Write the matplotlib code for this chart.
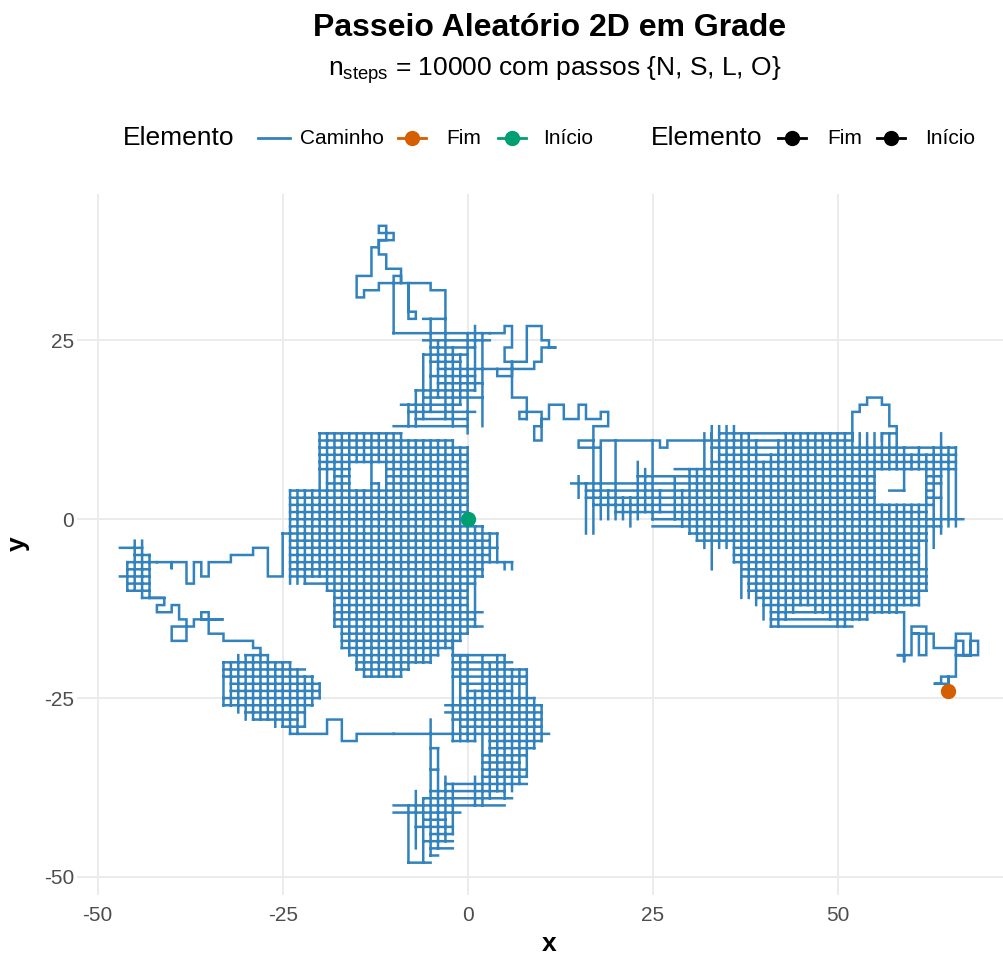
import matplotlib
matplotlib.use("Agg")
import matplotlib.pyplot as plt
from matplotlib.lines import Line2D
import numpy as np

plt.rcParams['font.family'] = ['Liberation Sans', 'DejaVu Sans']
plt.rcParams['mathtext.fontset'] = 'custom'
plt.rcParams['mathtext.rm'] = 'Liberation Sans'
plt.rcParams['mathtext.it'] = 'Liberation Sans:italic'
plt.rcParams['axes.unicode_minus'] = False

# ---------------------------------------------------------------- data
inicio = (0, 0)
fim = (65, -24)

# dense central region: horizontal runs (y, x_from, x_to) and vertical runs (x, y_from, y_to)
centro_linhas = [
    (12, -20, -9), (11, -20, -2), (10, -20, 0), (9, -20, 0), (8, -20, 0),
    (7, -20, -16), (7, -11, 0), (6, -18, -16), (6, -11, 0),
    (5, -19, -16), (5, -13, -12), (5, -11, 0),
    (4, -24, 0), (3, -24, 0), (2, -24, 0), (1, -24, 0), (0, -24, 0),
    (-1, -24, 2), (-2, -25, 4), (-3, -24, 3), (-4, -24, 4), (-5, -24, 3),
    (-6, -24, 6), (-7, -24, 2), (-8, -24, 2), (-9, -22, 1), (-10, -19, 0),
    (-11, -18, 0), (-12, -18, 0), (-13, -18, 2), (-14, -18, 1), (-15, -18, 2),
    (-16, -17, 0), (-17, -17, -1), (-18, -17, -2), (-19, -16, -4), (-20, -15, -5),
    (-21, -15, -8), (-22, -14, -9),
]
centro_colunas = [
    (-24, -9, 4), (-23, -9, 4), (-22, -9, 4), (-21, -8, 4), (-20, -8, 12),
    (-19, -10, 12), (-18, -15, 12), (-17, -18, 12), (-16, -19, 12),
    (-15, -21, 4), (-15, 8, 12), (-14, -22, 4), (-14, 8, 12),
    (-13, -22, 12), (-12, -22, 5), (-12, 8, 12),
    (-11, -22, 12), (-10, -22, 12), (-9, -22, 12), (-8, -21, 11), (-7, -20, 11),
    (-6, -20, 11), (-5, -20, 11), (-4, -19, 11), (-3, -18, 11), (-2, -18, 11),
    (-1, -17, 10), (0, -16, 10), (1, -15, -1), (2, -8, -1), (3, -6, -2),
    (4, -6, -2), (5, -7, -6), (6, -7, -6),
]

# small knot at the far west
oeste_linhas = [
    (-4, -47, -44), (-5, -45, -43), (-6, -46, -42), (-7, -46, -43), (-8, -47, -43),
    (-9, -46, -43), (-10, -46, -43), (-11, -44, -41),
]
oeste_colunas = [(-46, -10, -6), (-45, -10, -3), (-44, -11, -3), (-43, -11, -5)]

# south-west block
sudoeste_linhas = [
    (-19, -30, -27), (-20, -33, -24), (-21, -33, -22), (-22, -33, -21),
    (-23, -32, -20), (-24, -32, -20), (-25, -33, -20), (-26, -33, -21),
    (-27, -30, -22), (-28, -29, -23), (-29, -25, -22),
]
sudoeste_colunas = [
    (-33, -26, -20), (-32, -26, -20), (-31, -27, -19), (-30, -28, -19),
    (-29, -28, -19), (-28, -28, -19), (-27, -28, -19), (-26, -29, -20),
    (-25, -29, -20), (-24, -30, -20), (-23, -30, -21), (-22, -29, -22),
    (-21, -26, -22), (-20, -25, -23),
]

# southern lobe
sul_linhas = [
    (-19, -2, 5), (-20, -2, 6), (-21, -2, 8), (-22, -2, 8), (-23, -1, 8),
    (-24, 0, 6), (-25, -1, 9), (-26, -3, 10), (-27, -3, 10), (-28, -2, 10),
    (-29, -1, 10), (-30, -10, 11), (-31, -2, 1), (-31, 3, 10), (-32, 3, 9),
    (-32, -5, -4), (-33, 2, 8), (-34, 2, 7), (-35, 2, 8), (-35, -5, -4),
    (-36, 2, 8), (-37, -3, 8), (-38, -5, 5), (-39, -6, 6), (-40, -10, 5),
    (-41, -10, -1), (-42, -6, -3), (-43, -7, -2), (-44, -5, -2), (-45, -6, -2),
    (-46, -5, -2), (-47, -5, -4), (-48, -8, -5),
]
sul_colunas = [
    (-8, -48, -40), (-7, -46, -38), (-6, -48, -39), (-5, -47, -28), (-4, -46, -32),
    (-3, -45, -36), (-2, -44, -37), (-2, -31, -19), (-1, -31, -19), (0, -31, -19),
    (1, -40, -36), (1, -31, -24), (2, -40, -19), (3, -39, -20), (4, -38, -19),
    (5, -39, -19), (6, -38, -21), (7, -37, -21), (8, -36, -21), (9, -32, -25),
    (10, -31, -26),
]

# upper middle region
norte_linhas = [
    (13, -10, 0), (14, -7, 0), (15, -8, 1), (16, -9, -1), (17, -6, 2),
    (18, -7, 1), (19, -4, 2), (20, -5, 1), (21, -4, 4), (22, -5, -1),
    (23, -6, 0), (24, -5, 1), (25, -6, 3), (26, -10, 3), (28, -6, -3),
]
norte_colunas = [
    (-8, 13, 16), (-7, 13, 18), (-6, 14, 23), (-5, 15, 28), (-4, 17, 25),
    (-3, 14, 28), (-2, 13, 24), (-1, 16, 23), (0, 12, 26), (1, 18, 27), (2, 13, 26),
]

# eastern cluster
leste_linhas = [
    (12, 34, 52), (11, 33, 52), (10, 33, 66), (9, 34, 66), (8, 33, 66),
    (7, 28, 66), (6, 23, 55), (6, 62, 64), (5, 14, 55), (5, 62, 64),
    (4, 16, 55), (4, 57, 59), (4, 62, 63), (3, 16, 55), (3, 62, 64), (2, 17, 63),
    (1, 20, 62), (0, 25, 67), (-1, 25, 64), (-2, 30, 62), (-3, 31, 62),
    (-4, 36, 61), (-5, 36, 61), (-6, 36, 61), (-7, 37, 62), (-8, 37, 62),
    (-9, 38, 62), (-10, 38, 62), (-11, 39, 61), (-12, 40, 61), (-13, 41, 58),
    (-14, 41, 54), (-15, 41, 52),
]
leste_colunas = [
    (15, 3, 6), (16, -2, 5), (17, -2, 11), (18, 0, 10), (19, 0, 4), (20, 0, 11),
    (21, 0, 3), (22, -1, 3), (23, 0, 8), (24, 1, 7), (25, 0, 11), (26, 1, 4),
    (28, 0, 6), (29, -1, 4), (30, -2, 7), (31, -3, 7), (32, -4, 12), (33, -7, 13),
    (34, -4, 13), (35, -4, 13), (36, -6, 13), (37, -11, 12), (38, -11, 12),
    (39, -12, 11), (40, -14, 8), (41, -15, 9), (42, -15, 11), (43, -14, 12),
    (44, -13, 12), (45, -12, 12), (46, -12, 12), (47, -13, 12), (48, -13, 12),
    (49, -14, 12), (50, -15, 12), (51, -15, 12), (52, -14, 12), (53, -14, 12),
    (54, -14, 12), (55, -13, 12), (56, -13, 2), (56, 7, 12), (57, -13, 2),
    (57, 7, 12), (58, -13, 2), (58, 7, 12), (59, -12, 2), (59, 4, 10),
    (60, -12, 2), (60, 7, 9), (61, -12, 2), (61, 7, 10), (62, -10, 9),
    (63, -4, 10), (64, -2, 12), (65, -1, 10), (66, -1, 10),
]

# single-strand stretches of the walk, as lattice corners
cauda_oeste = [
    (-25, -2), (-25, -8), (-27, -8), (-27, -4), (-29, -4), (-29, -5), (-32, -5),
    (-32, -6), (-35, -6), (-35, -8), (-36, -8), (-36, -6), (-37, -6), (-37, -9),
    (-38, -9), (-38, -6), (-40, -6), (-40, -7), (-40, -6), (-42, -6),
]
oeste_sudoeste = [
    (-43, -11), (-41, -11), (-41, -12), (-42, -12), (-42, -13), (-40, -13),
    (-40, -12), (-39, -12), (-39, -14), (-38, -14), (-38, -17), (-40, -17),
    (-40, -15), (-37, -15), (-37, -14), (-33, -14), (-36, -14), (-36, -13),
    (-35, -13), (-35, -16), (-33, -16), (-33, -17), (-29, -17), (-29, -18),
    (-28, -18), (-28, -19),
]
sudoeste_sul = [
    (-24, -30), (-19, -30), (-19, -28), (-17, -28), (-17, -31), (-15, -31),
    (-15, -30), (-10, -30),
]
sul_centro = [(0, -19), (-2, -19), (-2, -17)]
espora = [
    (-3, 28), (-3, 32), (-5, 32), (-5, 33), (-8, 33), (-8, 29), (-7, 29), (-7, 28),
    (-8, 28), (-8, 33), (-9, 33), (-9, 35), (-11, 35), (-11, 37), (-12, 37),
    (-12, 39), (-11, 39), (-11, 41), (-12, 41), (-12, 40), (-10, 40), (-10, 39),
    (-12, 39), (-12, 38), (-13, 38), (-13, 34), (-15, 34), (-15, 31), (-14, 31),
    (-14, 32), (-12, 32), (-12, 33), (-10, 33), (-10, 34), (-9, 34), (-9, 33),
    (-10, 33), (-10, 26),
]
norte_leste = [
    (3, 26), (5, 26), (5, 27), (6, 27), (6, 24), (5, 24), (5, 22), (6, 22),
    (6, 21), (4, 21), (4, 20), (6, 20), (6, 22), (8, 22), (8, 27), (10, 27),
    (10, 25), (11, 25), (11, 24), (12, 24), (10, 24), (10, 22), (9, 22),
    (9, 21), (6, 21), (6, 17), (8, 17), (8, 14),
]
ponte = [
    (8, 14), (7, 14), (7, 15), (10, 15), (10, 13), (9, 13), (9, 11), (10, 11),
    (10, 14), (11, 14), (11, 16), (13, 16), (13, 14), (15, 14), (15, 16),
    (16, 16), (16, 14), (18, 14), (18, 15), (19, 15), (19, 13), (17, 13),
    (17, 11), (15, 11), (15, 10), (18, 10), (18, 11), (26, 11), (26, 10),
    (27, 10), (27, 11), (33, 11), (33, 12),
]
lombada = [
    (52, 11), (52, 15), (53, 15), (53, 16), (54, 16), (54, 17), (56, 17),
    (56, 16), (57, 16), (57, 13), (58, 13), (58, 12), (56, 12), (56, 11),
]
cauda_final = [
    (58, -13), (59, -13), (59, -20), (59, -19), (58, -19), (60, -19), (60, -15),
    (62, -15), (62, -19), (61, -19), (61, -16), (60, -16), (63, -16), (63, -18),
    (66, -18), (66, -16), (68, -16), (68, -19), (66, -19), (66, -17), (67, -17),
    (67, -19), (69, -19), (69, -17), (68, -17), (68, -19), (66, -19), (66, -22),
    (65, -22), (65, -23), (63, -23), (64, -23), (64, -22), (65, -22), (65, -24),
]

x_ticks = [-50, -25, 0, 25, 50]
y_ticks = [-50, -25, 0, 25]

cor_caminho = "#3182BD"
cor_fim = "#D55E00"
cor_inicio = "#009E73"

# ---------------------------------------------------------------- geometry
xs, ys = [], []


def add_poly(pts):
    """Append an axis-aligned polyline (corners inserted where needed)."""
    px, py = pts[0]
    xs.append(px)
    ys.append(py)
    for qx, qy in pts[1:]:
        if qx != px and qy != py:
            xs.append(qx)
            ys.append(py)
        xs.append(qx)
        ys.append(qy)
        px, py = qx, qy
    xs.append(np.nan)
    ys.append(np.nan)


def add_rows(rows):
    for y, a, b in rows:
        add_poly([(a, y), (b, y)])


def add_cols(cols):
    for x, a, b in cols:
        add_poly([(x, a), (x, b)])


for rows in (centro_linhas, oeste_linhas, sudoeste_linhas, sul_linhas,
             norte_linhas, leste_linhas):
    add_rows(rows)
for cols in (centro_colunas, oeste_colunas, sudoeste_colunas, sul_colunas,
             norte_colunas, leste_colunas):
    add_cols(cols)
for trecho in (cauda_oeste, oeste_sudoeste, sudoeste_sul, sul_centro, espora,
               norte_leste, ponte, lombada, cauda_final):
    add_poly(trecho)

# ---------------------------------------------------------------- figure
W, H = 1004, 955
fig = plt.figure(figsize=(W / 100, H / 100), dpi=100)
fig.patch.set_facecolor("white")


def fx(p):
    return p / W


def fy(p):
    return 1 - p / H


ax = fig.add_axes([fx(77), fy(894.5), (1021 - 77) / W, (894.5 - 194) / H])
ax.set_xlim(-52.8, 74.8)
ax.set_ylim(-52.45, 45.45)
ax.set_facecolor("white")
for s in ax.spines.values():
    s.set_visible(False)
ax.set_xticks(x_ticks)
ax.set_yticks(y_ticks)
ax.grid(True, color="#EBEBEB", linewidth=1.4)
ax.set_axisbelow(True)
ax.tick_params(length=0, labelsize=15, labelcolor="#4D4D4D")
ax.tick_params(axis="x", pad=8)
ax.tick_params(axis="y", pad=2)

ax.plot(xs, ys, color=cor_caminho, linewidth=1.8,
        solid_capstyle="projecting", solid_joinstyle="miter", zorder=3)
ax.plot([inicio[0]], [inicio[1]], "o", color=cor_inicio, markersize=10, zorder=4)
ax.plot([fim[0]], [fim[1]], "o", color=cor_fim, markersize=10, zorder=4)

# titles
fig.text(fx(550), fy(28), "Passeio Aleatório 2D em Grade", ha="center", va="center",
         fontsize=23, fontweight="bold")
fig.text(fx(555), fy(70), r"$\mathregular{n_{steps}}$ = 10000 com passos {N, S, L, O}",
         ha="center", va="center", fontsize=19)
fig.text(fx(549), fy(944), "x", ha="center", va="center", fontsize=19, fontweight="bold")
fig.text(fx(18), fy(544), "y", ha="center", va="center", fontsize=19,
         fontweight="bold", rotation=90)

# legends
ly = fy(138)


def key(x0, x1, color, marker):
    fig.add_artist(Line2D([fx(x0), fx(x1)], [ly, ly], color=color, linewidth=2.0,
                          transform=fig.transFigure))
    if marker:
        fig.add_artist(Line2D([fx((x0 + x1) / 2)], [ly], color=color, marker="o",
                              markersize=10, linestyle="none",
                              transform=fig.transFigure))


fig.text(fx(123), ly, "Elemento", ha="left", va="center", fontsize=19)
key(258, 290, cor_caminho, False)
fig.text(fx(300), ly, "Caminho", ha="left", va="center", fontsize=15)
key(398, 426, cor_fim, True)
fig.text(fx(446), ly, "Fim", ha="left", va="center", fontsize=15)
key(498, 526, cor_inicio, True)
fig.text(fx(543), ly, "Início", ha="left", va="center", fontsize=15)

fig.text(fx(651), ly, "Elemento", ha="left", va="center", fontsize=19)
key(778, 806, "black", True)
fig.text(fx(827), ly, "Fim", ha="left", va="center", fontsize=15)
key(877, 905, "black", True)
fig.text(fx(925), ly, "Início", ha="left", va="center", fontsize=15)

fig.savefig("out.png", dpi=100, facecolor="white")
